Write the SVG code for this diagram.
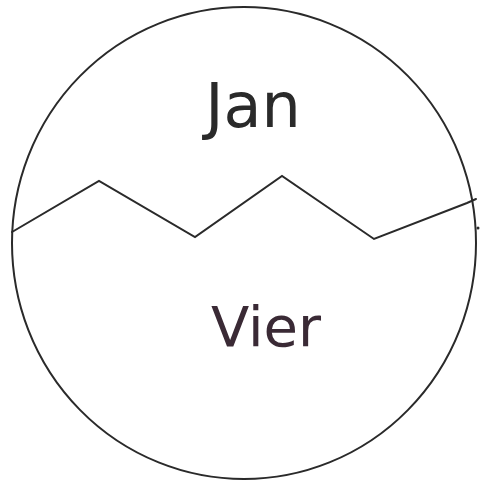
<svg xmlns="http://www.w3.org/2000/svg" width="481" height="483" viewBox="0 0 481 483">
<style>
.line{fill:none;stroke:#2a2a2a;stroke-width:2;stroke-linejoin:miter;stroke-linecap:round}
.lbl{font-family:"DejaVu Sans","Liberation Sans",sans-serif;font-weight:normal;text-anchor:middle}
</style>
<rect width="481" height="483" fill="#ffffff"/>
<g id="circle">
<ellipse class="line" cx="244" cy="243" rx="232" ry="236"/>
</g>
<g id="connectors">
<polyline class="line" points="12,232 99,181 195,237 282,176 374,239 467,203 476,199"/>
<circle cx="478" cy="228" r="1.5" fill="#2a2a2a"/>
</g>
<g id="node-jan">
<text class="lbl" x="253" y="127" font-size="62" fill="#2a2a2a">Jan</text>
</g>
<g id="node-vier">
<text class="lbl" x="266" y="346" font-size="56" fill="#3a2a35">Vier</text>
</g>
</svg>
